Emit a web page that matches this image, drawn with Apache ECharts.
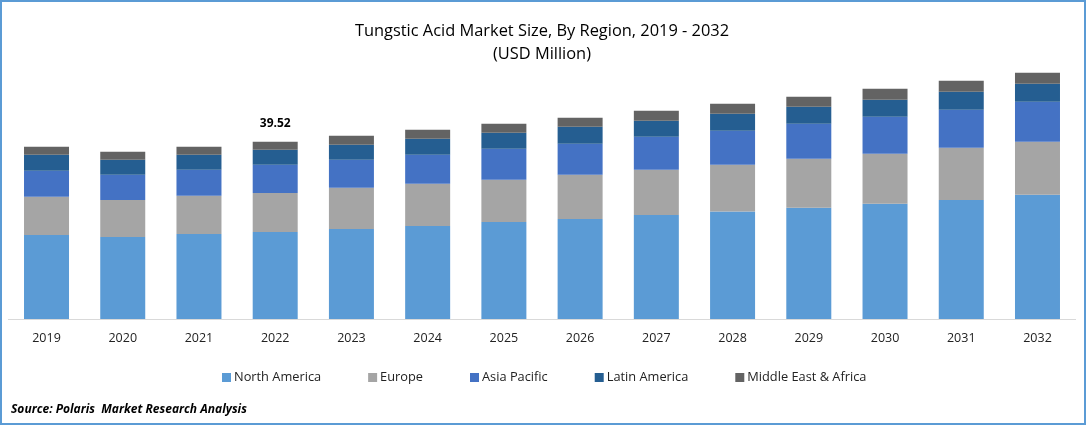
<!DOCTYPE html>
<html>
<head>
    <meta charset="utf-8" />
    <title>Tungstic Acid Market Size</title>
    <script src="https://cdn.jsdelivr.net/npm/echarts@6/dist/echarts.min.js"></script>
    <style>
        html, body { margin: 0; padding: 0; background: #fff; }
    </style>
</head>
<body>
    <div style="width:1086px;height:426px;" id="echart"></div>
</body>
</html>
<script>
    var years = ['2019', '2020', '2021', '2022', '2023', '2024', '2025', '2026', '2027', '2028', '2029', '2030', '2031', '2032'];
    var northAmerica = [18.76, 18.31, 18.98, 19.42, 20.10, 20.77, 21.66, 22.33, 23.22, 24.00, 24.79, 25.68, 26.57, 27.69];
    var europe = [8.49, 8.26, 8.49, 8.71, 9.16, 9.38, 9.38, 9.83, 10.05, 10.38, 10.94, 11.17, 11.61, 11.83];
    var asiaPacific = [5.81, 5.58, 5.81, 6.25, 6.25, 6.48, 6.92, 6.92, 7.37, 7.59, 7.82, 8.26, 8.49, 8.93];
    var latinAmerica = [3.57, 3.35, 3.35, 3.35, 3.35, 3.57, 3.57, 3.80, 3.57, 3.80, 3.80, 3.80, 4.02, 4.02];
    var middleEast = [1.79, 1.79, 1.79, 1.79, 2.01, 2.01, 2.01, 2.01, 2.23, 2.23, 2.23, 2.46, 2.46, 2.46];
    var labelledYear = '2022';
    var labelledTotal = '39.52';

    var fontName = '"Open Sans", sans-serif';

    function bar(name, data, color) {
        return { name: name, type: 'bar', stack: 'total', barWidth: 45, data: data, itemStyle: { color: color } };
    }

    var myChart = echarts.init(document.getElementById('echart'), null, { renderer: 'canvas' });

    var topSeries = bar('Middle East & Africa', middleEast, '#636363');
    // only one bar carries a total in the picture
    topSeries.label = {
        show: true,
        position: 'top',
        distance: 12,
        color: '#000',
        fontFamily: fontName,
        fontWeight: 'bold',
        fontSize: 12,
        formatter: function (p) {
            return p.name === labelledYear ? labelledTotal : '';
        }
    };

    var option = {
        animation: false,
        backgroundColor: '#fff',
        title: {
            text: 'Tungstic Acid Market Size, By Region, 2019 - 2032\n(USD Million)',
            left: 537,
            top: 15,
            textAlign: 'center',
            textStyle: { color: '#000', fontFamily: fontName, fontSize: 16.4, fontWeight: 'normal', lineHeight: 23 }
        },
        legend: {
            left: 222,
            top: 371,
            padding: 0,
            itemWidth: 9,
            itemHeight: 9,
            itemGap: 47,
            icon: 'rect',
            textStyle: { color: '#222', fontFamily: fontName, fontSize: 12.8, padding: [0, 0, 0, -2] }
        },
        grid: { left: 8.4, right: 10.4, top: 50, bottom: 107 },
        xAxis: {
            type: 'category',
            data: years,
            axisLine: { lineStyle: { color: '#d9d9d9', width: 1 } },
            axisTick: { show: false },
            axisLabel: { color: '#222', fontFamily: fontName, fontSize: 12.5, margin: 13 }
        },
        yAxis: { type: 'value', min: 0, max: 60, show: false, splitLine: { show: false } },
        series: [
            bar('North America', northAmerica, '#5b9bd5'),
            bar('Europe', europe, '#a5a5a5'),
            bar('Asia Pacific', asiaPacific, '#4472c4'),
            bar('Latin America', latinAmerica, '#255e91'),
            topSeries
        ],
        graphic: [
            {
                type: 'rect',
                silent: true,
                shape: { x: 1, y: 1, width: 1084, height: 423 },
                style: { fill: 'none', stroke: '#5b9bd5', lineWidth: 2 }
            },
            {
                type: 'text',
                left: 11,
                top: 404,
                style: { text: 'Source: Polaris  Market Research Analysis', fill: '#000', font: 'italic bold 12px ' + fontName }
            }
        ]
    };
    myChart.setOption(option);
</script>
